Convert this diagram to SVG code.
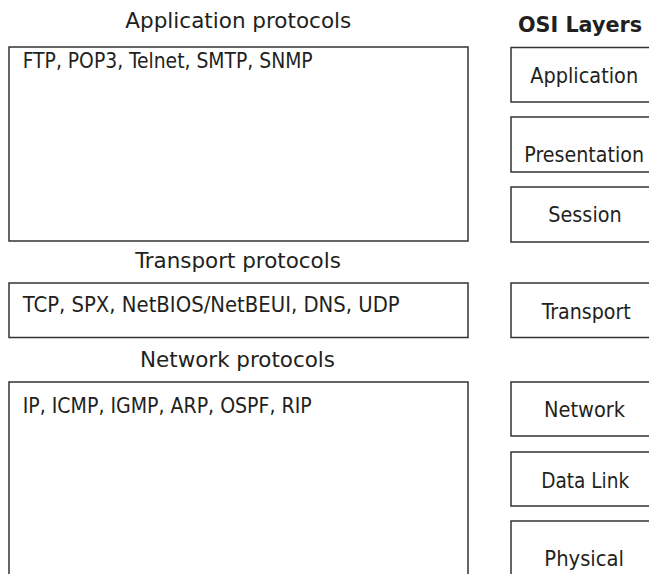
<svg xmlns="http://www.w3.org/2000/svg" width="649" height="574" viewBox="0 0 649 574">
<style>
.box{fill:#fff;stroke:#333;stroke-width:1.5}
.t{font-family:"Liberation Sans Narrow","DejaVu Sans Condensed","Liberation Sans",sans-serif;font-size:21px;fill:#231f20}
.c{text-anchor:middle}
.b{font-weight:bold}
</style>
<rect width="649" height="574" fill="#fff"/>
<g id="hdr-app"><text class="t c" x="238.3" y="28" textLength="226" lengthAdjust="spacingAndGlyphs">Application protocols</text></g>
<g id="hdr-osi"><text class="t c b" x="580" y="32" textLength="124" lengthAdjust="spacingAndGlyphs">OSI Layers</text></g>
<g id="app-protocols">
<rect class="box" x="9" y="47" width="459" height="194"/>
<text class="t" x="22.7" y="68" textLength="290" lengthAdjust="spacingAndGlyphs">FTP, POP3, Telnet, SMTP, SNMP</text>
</g>
<g id="hdr-transport"><text class="t c" x="238" y="268" textLength="205.7" lengthAdjust="spacingAndGlyphs">Transport protocols</text></g>
<g id="transport-protocols">
<rect class="box" x="9" y="283" width="459" height="54.5"/>
<text class="t" x="22.7" y="312" textLength="377" lengthAdjust="spacingAndGlyphs">TCP, SPX, NetBIOS/NetBEUI, DNS, UDP</text>
</g>
<g id="hdr-network"><text class="t c" x="237.5" y="367" textLength="195" lengthAdjust="spacingAndGlyphs">Network protocols</text></g>
<g id="network-protocols">
<rect class="box" x="9" y="382" width="459" height="220"/>
<text class="t" x="22.7" y="413" textLength="289" lengthAdjust="spacingAndGlyphs">IP, ICMP, IGMP, ARP, OSPF, RIP</text>
</g>
<g id="osi-application"><rect class="box" x="511" y="47.5" width="200" height="54.5"/><text class="t c" x="584.2" y="83" textLength="108" lengthAdjust="spacingAndGlyphs">Application</text></g>
<g id="osi-presentation"><rect class="box" x="511" y="117" width="200" height="55"/><text class="t c" x="584.2" y="162" textLength="119.7" lengthAdjust="spacingAndGlyphs">Presentation</text></g>
<g id="osi-session"><rect class="box" x="511" y="187" width="200" height="55"/><text class="t c" x="585" y="222" textLength="73.4" lengthAdjust="spacingAndGlyphs">Session</text></g>
<g id="osi-transport"><rect class="box" x="511" y="283" width="200" height="54.5"/><text class="t c" x="586.2" y="319" textLength="89" lengthAdjust="spacingAndGlyphs">Transport</text></g>
<g id="osi-network"><rect class="box" x="511" y="382" width="200" height="54"/><text class="t c" x="584.5" y="417" textLength="81" lengthAdjust="spacingAndGlyphs">Network</text></g>
<g id="osi-datalink"><rect class="box" x="511" y="452" width="200" height="54"/><text class="t c" x="585.2" y="488" textLength="88" lengthAdjust="spacingAndGlyphs">Data Link</text></g>
<g id="osi-physical"><rect class="box" x="511" y="521" width="200" height="80"/><text class="t c" x="584.2" y="566" textLength="79.7" lengthAdjust="spacingAndGlyphs">Physical</text></g>
<g id="connectors"></g>
</svg>
